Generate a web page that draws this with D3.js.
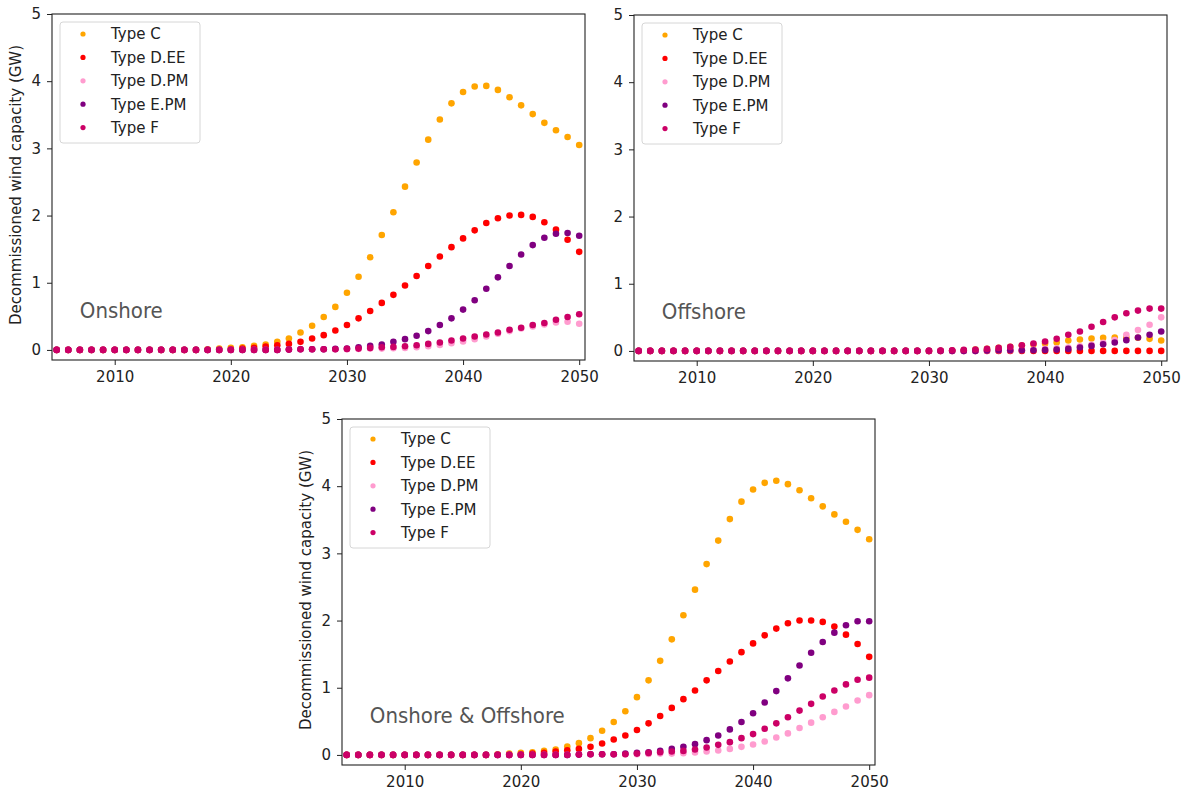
<!DOCTYPE html>
<html>
<head>
<meta charset="utf-8">
<script src="https://cdn.jsdelivr.net/npm/d3@7"></script>
<style>
  body { margin: 0; background: #fff; }
  svg { display: block; }
  .tick text { font-family: "DejaVu Sans", sans-serif; font-size: 15px; fill: #222; }
</style>
</head>
<body>
<svg id="chart"></svg>
<script>
// years on the x axis
const years = [2005, 2006, 2007, 2008, 2009, 2010, 2011, 2012, 2013, 2014,
  2015, 2016, 2017, 2018, 2019, 2020, 2021, 2022, 2023, 2024,
  2025, 2026, 2027, 2028, 2029, 2030, 2031, 2032, 2033, 2034,
  2035, 2036, 2037, 2038, 2039, 2040, 2041, 2042, 2043, 2044,
  2045, 2046, 2047, 2048, 2049, 2050];

const typeNames = ['Type C', 'Type D.EE', 'Type D.PM', 'Type E.PM', 'Type F'];
const typeColors = ['#ffa500', '#ff0000', '#ff9ccf', '#800080', '#cc0066'];

const xTicks = [2010, 2020, 2030, 2040, 2050];
const yTicks = [0, 1, 2, 3, 4, 5];

// Onshore (GW), 2005..2050
const onshoreC = [0,0,0,0,0,0,0,0,0,0,0,0,0, 0.01,0.02,0.03,0.04,0.06,0.08,0.12,
  0.17,0.26,0.36,0.49,0.64,0.85,1.09,1.38,1.71,2.05,2.43,2.79,3.13,3.43,3.67,3.84,
  3.92,3.93,3.87,3.76,3.64,3.51,3.38,3.27,3.17,3.05];
const onshoreDEE = [0,0,0,0,0,0,0,0,0,0,0,0,0,0,0, 0.01,0.02,0.03,0.05,0.07,
  0.09,0.12,0.17,0.22,0.29,0.37,0.47,0.58,0.70,0.82,0.96,1.10,1.25,1.39,1.53,1.66,
  1.78,1.89,1.96,2.00,2.01,1.98,1.90,1.79,1.64,1.46];
const onshoreDPM = [0,0,0,0,0,0,0,0,0,0,0,0,0,0,0,0,0,0,0,0,
  0.005,0.01,0.01,0.01,0.01,0.01,0.015,0.02,0.02,0.025,0.03,0.04,0.055,0.075,0.10,0.125,
  0.16,0.20,0.24,0.28,0.32,0.35,0.38,0.41,0.42,0.39];
const onshoreEPM = [0,0,0,0,0,0,0,0,0,0,0,0,0,0,0,0,0,0,0,0,
  0.005,0.01,0.01,0.01,0.015,0.02,0.04,0.06,0.08,0.12,0.16,0.21,0.28,0.37,0.47,0.60,
  0.74,0.91,1.08,1.25,1.42,1.56,1.67,1.73,1.74,1.70];
const onshoreF = [0,0,0,0,0,0,0,0,0,0,0,0,0,0,0,0,0,0,0,0,
  0.005,0.01,0.01,0.01,0.01,0.015,0.02,0.03,0.04,0.045,0.055,0.07,0.09,0.11,0.14,0.17,
  0.20,0.23,0.26,0.30,0.33,0.37,0.40,0.45,0.49,0.53];

// Offshore (GW)
const offshoreC = [0,0,0,0,0,0,0,0,0,0,0,0,0,0,0,0,0,0,0,0,0,0,0,0,0,0,0,
  0.005,0.01,0.02,0.03,0.045,0.06,0.08,0.095,0.11,0.125,0.155,0.17,0.185,0.195,0.20,0.20,0.195,0.18,0.155];
const offshoreDEE = [0,0,0,0,0,0,0,0,0,0,0,0,0,0,0,0,0,0,0,0,0,0,0,
  0,0,0,0,0,0,0,0,0,0,0,0,0,0,0,0,0,0,0,0,0,0,0];
const offshoreDPM = [0,0,0,0,0,0,0,0,0,0,0,0,0,0,0,0,0,0,0,0,0,0,0,0,0,0,0,0,0,0,
  0.005,0.01,0.01,0.015,0.02,0.03,0.04,0.05,0.07,0.09,0.12,0.16,0.24,0.31,0.39,0.50];
const offshoreEPM = [0,0,0,0,0,0,0,0,0,0,0,0,0,0,0,0,0,0,0,0,0,0,0,0,0,0,0,0,0,0,
  0.005,0.01,0.01,0.01,0.01,0.015,0.02,0.03,0.05,0.075,0.10,0.125,0.16,0.20,0.24,0.29];
const offshoreF = [0,0,0,0,0,0,0,0,0,0,0,0,0,0,0,0,0,0,0,0,0,0,0,0,0,0,
  0.005,0.01,0.015,0.02,0.03,0.045,0.06,0.085,0.11,0.14,0.18,0.24,0.29,0.36,0.43,0.50,0.56,0.60,0.63,0.63];

// Onshore & Offshore (GW)
const totalC = [0,0,0,0,0,0,0,0,0,0,0,0,0, 0.01,0.02,0.03,0.04,0.06,0.08,0.125,
  0.175,0.25,0.36,0.49,0.65,0.86,1.11,1.40,1.72,2.08,2.46,2.84,3.19,3.51,3.77,3.95,
  4.05,4.08,4.03,3.94,3.82,3.70,3.58,3.47,3.35,3.21];
const totalDEE = [0,0,0,0,0,0,0,0,0,0,0,0,0,0,0, 0.01,0.02,0.03,0.05,0.07,
  0.09,0.12,0.17,0.23,0.29,0.37,0.47,0.58,0.70,0.83,0.96,1.11,1.25,1.39,1.53,1.66,
  1.78,1.88,1.96,2.00,2.00,1.98,1.91,1.79,1.65,1.46];
const totalDPM = [0,0,0,0,0,0,0,0,0,0,0,0,0,0,0,0,0,0,0,0,
  0.005,0.01,0.01,0.01,0.01,0.01,0.015,0.02,0.02,0.025,0.035,0.05,0.065,0.09,0.12,0.155,
  0.20,0.26,0.32,0.40,0.48,0.56,0.64,0.72,0.81,0.89];
const totalEPM = [0,0,0,0,0,0,0,0,0,0,0,0,0,0,0,0,0,0,0,0,
  0.005,0.01,0.01,0.01,0.02,0.03,0.04,0.06,0.09,0.12,0.16,0.22,0.29,0.38,0.49,0.62,
  0.78,0.95,1.14,1.33,1.52,1.68,1.82,1.93,1.99,1.99];
const totalF = [0,0,0,0,0,0,0,0,0,0,0,0,0,0,0,0,0,0,0,0,
  0.005,0.01,0.01,0.01,0.01,0.02,0.03,0.04,0.05,0.06,0.08,0.11,0.15,0.19,0.25,0.31,
  0.39,0.47,0.56,0.66,0.76,0.87,0.96,1.05,1.12,1.15];

const svgWidth = 1190;
const svgHeight = 792;

const svg = d3.select('#chart')
  .attr('width', svgWidth)
  .attr('height', svgHeight);

// one entry per panel
const panels = [
  {label: 'Onshore', left: 52, top: 14, yLabel: true,
   series: [onshoreC, onshoreDEE, onshoreDPM, onshoreEPM, onshoreF]},
  {label: 'Offshore', left: 634, top: 15, yLabel: false,
   series: [offshoreC, offshoreDEE, offshoreDPM, offshoreEPM, offshoreF]},
  {label: 'Onshore & Offshore', left: 342, top: 419, yLabel: true,
   series: [totalC, totalDEE, totalDPM, totalEPM, totalF]}
];

const plotWidth = 533;
const plotHeight = 346;

function translate(x, y) {
  return 'translate(' + x + ',' + y + ')';
}

function drawPanel(p) {
  const g = svg.append('g').attr('transform', translate(p.left, p.top));

  const x = d3.scaleLinear()
    .domain([2004.6, 2050.5])
    .range([0, plotWidth]);

  const y = d3.scaleLinear()
    .domain([-0.15, 5])
    .range([plotHeight, 0]);

  // axes
  const xAxis = d3.axisBottom(x).tickValues(xTicks).tickFormat(d3.format('d'))
    .tickSizeOuter(0).tickSize(5).tickPadding(6);
  const yAxis = d3.axisLeft(y).tickValues(yTicks).tickFormat(d3.format('d'))
    .tickSizeOuter(0).tickSize(5).tickPadding(6);

  g.append('g')
    .attr('transform', translate(0, plotHeight))
    .call(xAxis);
  g.append('g').call(yAxis);
  g.selectAll('.domain').remove();
  g.selectAll('.tick line').attr('stroke', '#222');

  // frame
  g.append('rect')
    .attr('width', plotWidth)
    .attr('height', plotHeight)
    .attr('fill', 'none')
    .attr('stroke', '#222')
    .attr('stroke-width', 1.1);

  // points, drawn in legend order so Type F ends on top
  p.series.forEach(function(values, i) {
    g.append('g')
      .selectAll('circle')
      .data(values)
      .enter()
      .append('circle')
      .attr('cx', function(d, j) { return x(years[j]); })
      .attr('cy', function(d) { return y(d); })
      .attr('r', 3.3)
      .attr('fill', typeColors[i]);
  });

  // panel caption
  g.append('text')
    .attr('x', x(2007.0))
    .attr('y', y(0.47))
    .attr('fill', '#555')
    .style('font-family', '"DejaVu Sans", sans-serif')
    .style('font-stretch', 'condensed')
    .style('font-size', '22px')
    .text(p.label);

  // legend
  const legend = g.append('g').attr('transform', translate(8, 8));
  legend.append('rect')
    .attr('width', 140)
    .attr('height', 121)
    .attr('rx', 3)
    .attr('fill', '#fff')
    .attr('stroke', '#d6d6d6');

  const rows = legend.selectAll('.row')
    .data(typeNames)
    .enter()
    .append('g')
    .attr('transform', function(d, i) { return translate(0, 12 + i * 23.4); });

  rows.append('circle')
    .attr('cx', 23)
    .attr('r', 2.6)
    .attr('fill', function(d, i) { return typeColors[i]; });

  rows.append('text')
    .attr('x', 51)
    .attr('dy', '0.36em')
    .style('font-family', '"DejaVu Sans", sans-serif')
    .style('font-size', '15px')
    .attr('fill', '#222')
    .text(function(d) { return d; });

  if (p.yLabel) {
    g.append('text')
      .attr('transform', translate(-31, plotHeight / 2 - 2) + ' rotate(-90)')
      .attr('text-anchor', 'middle')
      .style('font-family', '"DejaVu Sans", sans-serif')
      .style('font-size', '15px')
      .attr('fill', '#222')
      .text('Decommissioned wind capacity (GW)');
  }
}

panels.forEach(drawPanel);
</script>
</body>
</html>
